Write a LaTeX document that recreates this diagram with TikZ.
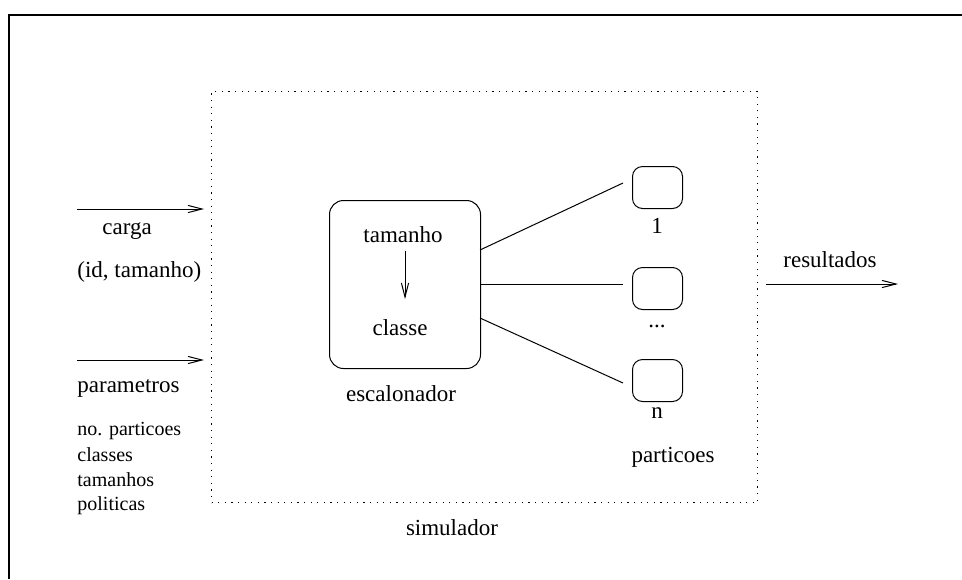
\documentclass[tikz,border=0pt]{standalone}
\usepackage{fontspec}
\setmainfont{Liberation Serif}
\usetikzlibrary{arrows.meta,calc}
\begin{document}
\begin{tikzpicture}[x=0.5pt,y=-0.5pt,
  lbl/.style={inner sep=0pt,font=\fontsize{11.5}{13}\selectfont},
  small/.style={inner sep=0pt,font=\fontsize{10}{12}\selectfont},
  thinline/.style={line width=0.5pt},
  arr/.style={thinline,-{Straight Barb[length=7pt,width=3.6pt,line width=0.5pt]}},
  dotbox/.style={line width=0.6pt,dash pattern=on 0.6pt off 2.7pt},
  rbox/.style={draw,thinline,rounded corners=7pt,inner sep=0pt},
  pbox/.style={rbox,rounded corners=5pt,minimum width=25pt,minimum height=21pt,anchor=north west}]
\useasboundingbox (0,0) rectangle (962,579);
% outer frame (only left and top visible)
\draw[line width=1pt] (9,579) -- (9,15) -- (962,15);
% simulator dotted box
\node[draw,dotbox,inner sep=0pt,minimum width=273pt,minimum height=205.5pt,anchor=north west] (sim) at (211,91) {};
% scheduler box
\node[rbox,minimum width=75.5pt,minimum height=84pt,anchor=north west] (esc) at (329,200) {};
% partitions
\node[pbox] (p1) at (632,166) {};
\node[pbox] (p2) at (632,267) {};
\node[pbox] (p3) at (632,359) {};
% texts
\node[lbl,anchor=base west] (carga) at (102,234) {carga};
\node[lbl,anchor=base west] (idt) at (77,277) {(id, tamanho)};
\node[lbl,anchor=base west] (param) at (77,392) {parametros};
\node[small,anchor=base west] (np) at (77,435) {no. particoes};
\node[small,anchor=base west] (cl) at (77,461) {classes};
\node[small,anchor=base west] (tm) at (77,486) {tamanhos};
\node[small,anchor=base west] (po) at (77,510) {politicas};
\node[lbl,anchor=base] (tam) at (403,242) {tamanho};
\node[lbl,anchor=base] (cls) at (400,335) {classe};
\node[lbl,anchor=base] (escl) at (401,401) {escalonador};
\node[lbl,anchor=base] (l1) at (657,233) {1};
\node[lbl,anchor=base] (l2) at (657,327) {...};
\node[lbl,anchor=base] (l3) at (657,418) {n};
\node[lbl,anchor=base] (part) at (673,462) {particoes};
\node[lbl,anchor=base] (res) at (830,267) {resultados};
\node[lbl,anchor=base] (simlbl) at (452,535) {simulador};
% coordinates
\coordinate (a1) at (77,209);
\coordinate (a2) at (77,360);
\coordinate (e1) at (480,250);
\coordinate (e2) at (480,284);
\coordinate (e3) at (480,318);
\coordinate (q1) at (623,183);
\coordinate (q2) at (623,284);
\coordinate (q3) at (623,383);
\coordinate (r0) at (766,284);
\coordinate (r1) at (898,284);
\coordinate (t0) at (405,251);
\coordinate (t1) at (405,299);
% connectors
\draw[arr,shorten >=3.5pt] (a1) -- (a1 -| sim.west);
\draw[arr,shorten >=3.5pt] (a2) -- (a2 -| sim.west);
\draw[arr] (r0) -- (r1);
\draw[arr] (t0) -- (t1);
\draw[thinline] (e1) -- (q1);
\draw[thinline] (e2) -- (q2);
\draw[thinline] (e3) -- (q3);
\end{tikzpicture}
\end{document}
